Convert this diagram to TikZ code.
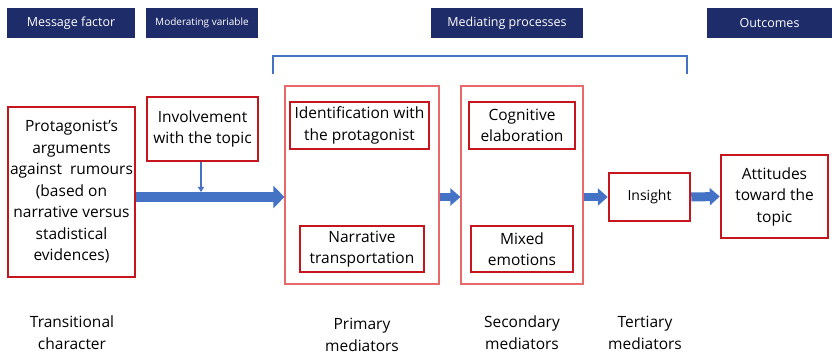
\documentclass[tikz,border=0pt]{standalone}
\usepackage{fontspec}
\setmainfont{Open Sans}
\usetikzlibrary{arrows.meta}

\definecolor{navy}{HTML}{1F2C6A}
\definecolor{boxred}{HTML}{C4161C}
\definecolor{framered}{HTML}{E8686C}
\definecolor{flowblue}{HTML}{4472C4}

\begin{document}
\begin{tikzpicture}[x=1pt,y=-1pt]
\useasboundingbox (0,0) rectangle (832,355);

% header labels
\begin{scope}[every node/.style={fill=navy,text=white,minimum height=30pt,inner sep=0pt,
              font=\fontsize{12.5}{15}\selectfont}]
    \node[minimum width=128pt] (msg) at (71  ,23) {Message factor};
    \node[minimum width=112pt,font=\fontsize{10}{12}\selectfont] (mod) at (202 ,23) {Moderating variable};
    \node[minimum width=152pt] (med) at (507 ,23) {Mediating processes};
    \node[minimum width=125pt] (out) at (769.5,23) {Outcomes};
\end{scope}

% mediator frames
\begin{scope}[every node/.style={draw=framered,line width=1.2pt,minimum height=198pt,inner sep=0pt}]
    \node[minimum width=154pt] (prim) at (362,185) {};
    \node[minimum width=122pt] (sec)  at (522,185) {};
\end{scope}

% variables
\begin{scope}[every node/.style={draw=boxred,line width=2.5pt,fill=white,align=center,inner sep=0pt,
              font=\fontsize{15.5}{21.5}\selectfont}]
    \node[minimum width=127pt,minimum height=170pt] (prot) at (71.5 ,192) {Protagonist’s\\arguments\\against~ rumours\\(based on\\narrative versus\\stadistical\\evidences)};
    \node[minimum width=111pt,minimum height=64pt]  (inv)  at (202.5,129) {Involvement\\with the topic};
    \node[minimum width=139pt,minimum height=47pt]  (iden) at (359.5,125.5) {Identification with\\the protagonist};
    \node[minimum width=124pt,minimum height=46pt]  (narr) at (362  ,249) {Narrative\\transportation};
    \node[minimum width=106pt,minimum height=47pt]  (cog)  at (522  ,125.5) {Cognitive\\elaboration};
    \node[minimum width=102pt,minimum height=46pt]  (mix)  at (522  ,249) {Mixed\\emotions};
    \node[minimum width=81pt ,minimum height=48pt,font=\fontsize{14}{20}\selectfont] (ins) at (649.5,197) {Insight};
    \node[minimum width=107pt,minimum height=83pt]  (att)  at (774.5,196.5) {Attitudes\\toward the\\topic};
\end{scope}

% stage labels
\begin{scope}[every node/.style={align=center,font=\fontsize{15.5}{22}\selectfont}]
    \node (trans) at (72 ,333) {Transitional\\character};
    \node (pmed)  at (362,335) {Primary\\mediators};
    \node (smed)  at (522,333) {Secondary\\mediators};
    \node (tmed)  at (645,333) {Tertiary\\mediators};
\end{scope}

% bracket over the mediating processes
\coordinate (brL) at (273,74);
\coordinate (brR) at (687,74);
\draw[flowblue,line width=2pt] (brL) -- ++(0,-18) -| (brR);

\coordinate (joint) at (201,192);

\begin{scope}[flowblue]
    \draw[line width=10pt,-{Triangle[length=11pt,width=22pt]}] (prot.east |- ins) -- (prim.west |- ins);
    \draw[line width=1.8pt,-{Triangle[length=5pt,width=6pt]}] (inv.south -| joint) -- (joint);
    \draw[line width=8pt,-{Triangle[length=10pt,width=17pt]}] (prim.east |- ins) -- (sec.west |- ins);
    \draw[line width=8pt,-{Triangle[length=10pt,width=17pt]}] (sec.east |- ins) -- (ins.west);
    \draw[line width=9pt,-{Triangle[length=10pt,width=17pt]}] (ins.east) -- (att.west);
\end{scope}
\end{tikzpicture}
\end{document}
